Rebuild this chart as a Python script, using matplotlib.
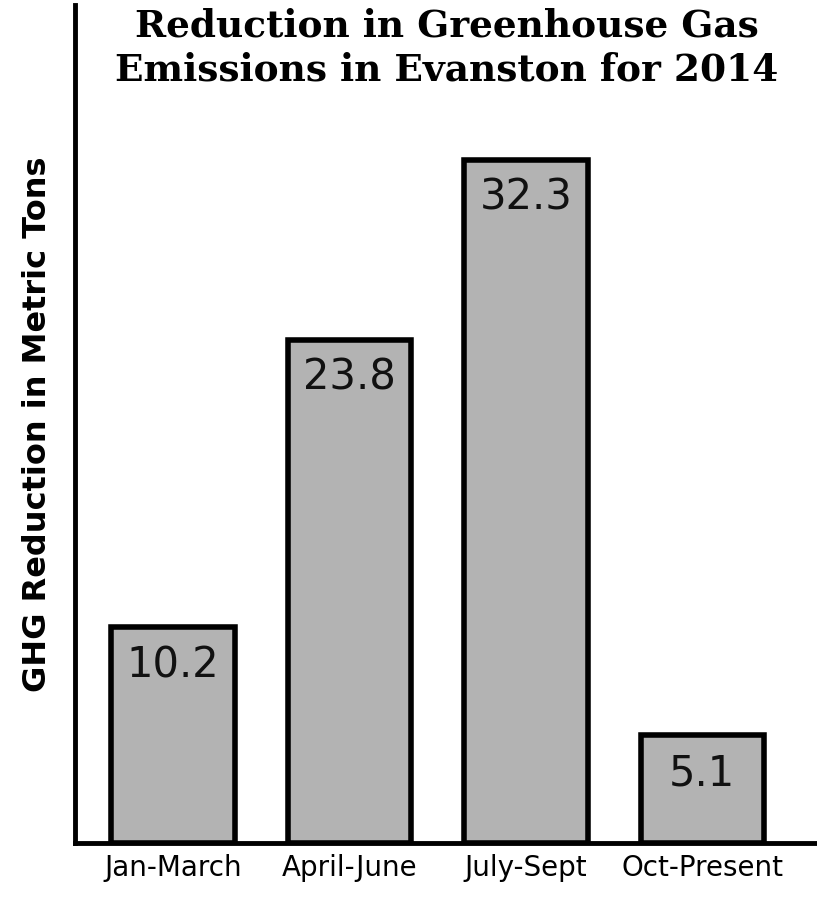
import matplotlib.pyplot as plt

periods = ["Jan-March", "April-June", "July-Sept", "Oct-Present"]
reduction = [10.2, 23.8, 32.3, 5.1]

fig = plt.figure(figsize=(8.17, 9.0), dpi=100)
ax = fig.add_axes([0.092, 0.063, 0.908, 0.931])

xs = range(len(periods))
ax.bar(xs, reduction, width=0.7, color="#b3b3b3", edgecolor="black", linewidth=4)
for x, v in zip(xs, reduction):
    ax.text(x, v - 0.8, f"{v}", ha="center", va="top", fontsize=30, color="#111111")

ax.set_xlim(-0.555, 3.65)
ax.set_ylim(0, 39.6)
ax.set_xticks(list(xs))
ax.set_xticklabels(periods, fontsize=20)
ax.tick_params(axis="x", length=0, pad=8)
ax.set_yticks([])
for s in ["top", "right"]:
    ax.spines[s].set_visible(False)
for s in ["left", "bottom"]:
    ax.spines[s].set_linewidth(3.5)
ax.set_ylabel("GHG Reduction in Metric Tons", fontsize=23, fontweight="bold", labelpad=16)

ax.text(1.55, 39.5, "Reduction in Greenhouse Gas\nEmissions in Evanston for 2014",
        ha="center", va="top", fontsize=27, fontweight="heavy",
        family="DejaVu Serif", linespacing=1.25)

fig.savefig("out.png", dpi=100)
